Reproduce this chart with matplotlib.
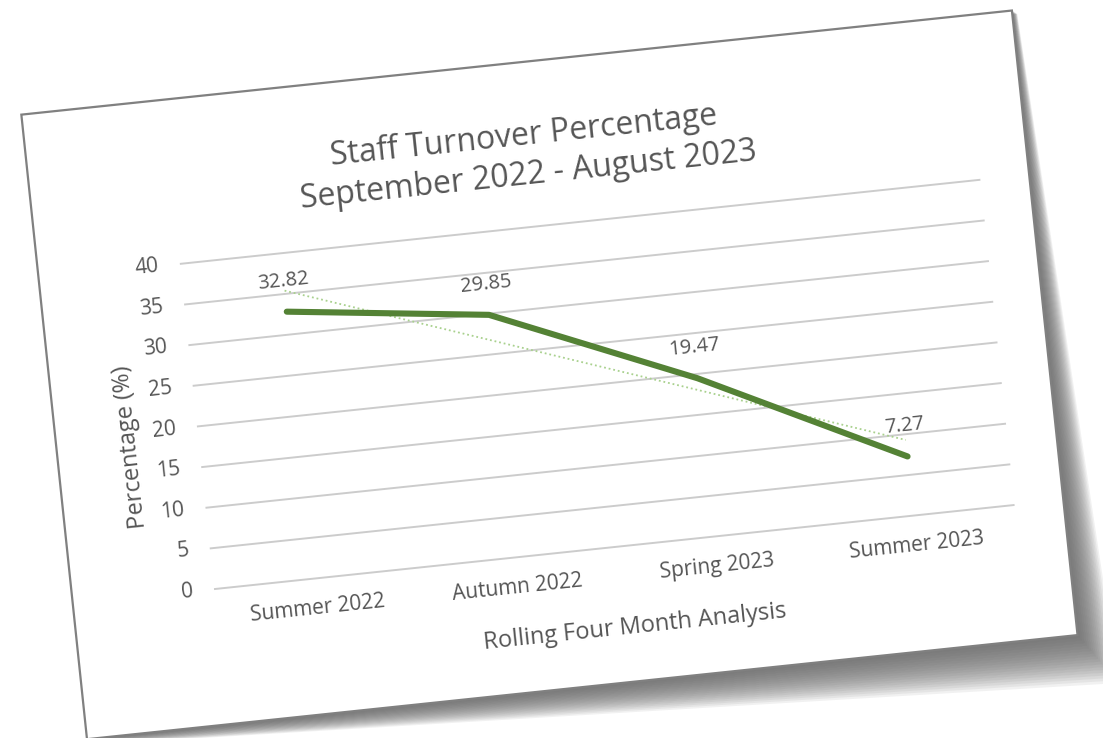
import numpy as np
import matplotlib
matplotlib.use('Agg')
import matplotlib.pyplot as plt
from matplotlib.transforms import Affine2D
from matplotlib.patches import Polygon

categories = ['Summer 2022', 'Autumn 2022', 'Spring 2023', 'Summer 2023']
turnover = [32.82, 29.85, 19.47, 7.27]
yticks = [0, 5, 10, 15, 20, 25, 30, 35, 40]
title = 'Staff Turnover Percentage\nSeptember 2022 - August 2023'
xlabel = 'Rolling Four Month Analysis'
ylabel = 'Percentage (%)'

W, H = 1103, 738
ang = 6.0           # tilt of the pasted picture
ox, oy = 215, H - 589   # bottom-left corner of plot area, display px
pw, ph = 803, 327   # plot area size, px

plt.rcParams['font.family'] = ['Open Sans', 'DejaVu Sans']
txt = '#555555'

fig = plt.figure(figsize=(W / 100, H / 100), dpi=100)
fig.patch.set_facecolor('white')
ax = fig.add_axes([ox / W, oy / H, pw / W, ph / H])
ax.set_xlim(0.5, 4.5)
ax.set_ylim(0, 40)
ax.axis('off')

rot = Affine2D().rotate_deg_around(ox, oy, ang)
T = ax.transData + rot
page = Affine2D().translate(ox, oy) + rot   # px relative to plot origin

# shadow + page
pu = np.array([-143, 853, 853, -143])
pv = np.array([492, 492, -136, -136])
du = np.array([0, 5, 36, 8])
dv = np.array([0, -4, -52, -6])
N = 18
for i in range(1, N + 1):
    f = i / N
    pts = np.column_stack([pu + f * du, pv + f * dv])
    ax.add_patch(Polygon(pts, closed=True, transform=page, facecolor='#606060',
                         edgecolor='none', alpha=0.085, clip_on=False))
ax.add_patch(Polygon(np.column_stack([pu, pv]), closed=True, transform=page,
                     facecolor='white', edgecolor='#808080', lw=1.6, clip_on=False))

# gridlines
for yv in yticks:
    ax.plot([0.5, 4.5], [yv, yv], transform=T, color='#cccccc', lw=1.4,
            clip_on=False, zorder=2)

x = np.arange(1, len(categories) + 1)

# linear trendline
k, b = np.polyfit(x, turnover, 1)
ax.plot(x, k * x + b, transform=T, color='#a9d18e', lw=1.3,
        linestyle=(0, (1, 1.6)), clip_on=False, zorder=3)

ax.plot(x, turnover, transform=T, color='#548235', lw=4.4,
        solid_capstyle='round', solid_joinstyle='round', clip_on=False, zorder=4)

# data labels
lab_t = ax.transData + Affine2D().translate(0, 31) + rot
for xi, v in zip(x, turnover):
    ax.text(xi, v, f'{v:.2f}', transform=lab_t, ha='center', va='center',
            rotation=ang, rotation_mode='anchor', fontsize=14.5, color=txt, zorder=5)

# y tick labels
yt = ax.get_yaxis_transform() + Affine2D().translate(-22, 0) + rot
for yv in yticks:
    ax.text(0, yv, str(yv), transform=yt, ha='right', va='center',
            rotation=ang, rotation_mode='anchor', fontsize=15, color=txt)

# x tick labels
xt = ax.get_xaxis_transform() + Affine2D().translate(0, -30) + rot
for xi, c in zip(x, categories):
    ax.text(xi, 0, c, transform=xt, ha='center', va='center',
            rotation=ang, rotation_mode='anchor', fontsize=15, color=txt)

# titles
lines = title.split('\n')
ax.text(354.5, 418, lines[0], transform=page, ha='center', va='center',
        rotation=ang, rotation_mode='anchor', fontsize=23, color=txt)
ax.text(354.5, 378, lines[1], transform=page, ha='center', va='center',
        rotation=ang, rotation_mode='anchor', fontsize=23, color=txt)
ax.text(414, -82, xlabel, transform=page, ha='center', va='center',
        rotation=ang, rotation_mode='anchor', fontsize=17, color=txt)
ax.text(-69, 150, ylabel, transform=page, ha='center', va='center',
        rotation=90 + ang, rotation_mode='anchor', fontsize=17, color=txt)

fig.savefig('out.png', dpi=100, facecolor='white')
